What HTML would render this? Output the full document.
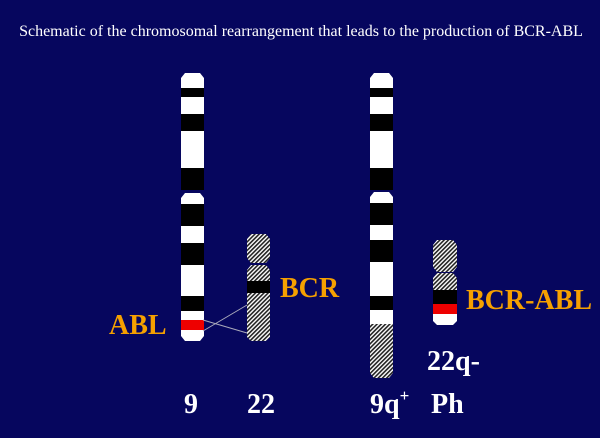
<!DOCTYPE html>
<html><head><meta charset="utf-8"><style>
html,body{margin:0;padding:0;background:#06065e;}
svg{display:block}
</style></head><body>
<svg width="600" height="438" viewBox="0 0 600 438" xmlns="http://www.w3.org/2000/svg">
<defs>
<pattern id="h" width="3" height="3" patternUnits="userSpaceOnUse" patternTransform="rotate(45)">
<rect width="3" height="3" fill="#fff"/><rect width="1.6" height="3" fill="#222"/>
</pattern>
</defs>
<rect width="600" height="438" fill="#06065e"/>
<text x="301" y="36" fill="#fff" font-family="Liberation Serif, serif" font-size="16" text-anchor="middle">Schematic of the chromosomal rearrangement that leads to the production of BCR-ABL</text>

<!-- chr 9 -->
<g>
<path d="M185,73 L200,73 L204,78 L204,190 L181,190 L181,78 Z" fill="#fff"/>
<rect x="181" y="88" width="23" height="9" fill="#000"/>
<rect x="181" y="114" width="23" height="17" fill="#000"/>
<rect x="181" y="168" width="23" height="22" fill="#000"/>
<path d="M185,193 L200,193 L204,198 L204,336 L200,341 L185,341 L181,336 L181,198 Z" fill="#fff"/>
<rect x="181" y="204" width="23" height="22" fill="#000"/>
<rect x="181" y="243" width="23" height="22" fill="#000"/>
<rect x="181" y="296" width="23" height="15" fill="#000"/>
<rect x="181" y="320" width="23" height="10" fill="#e00"/>
</g>
<!-- chr 22 -->
<path d="M251,234 L266,234 L270,239 L270,258 L266,263 L251,263 L247,258 L247,239 Z" fill="url(#h)"/>
<path d="M251,265 L266,265 L270,270 L270,337 L266,341 L251,341 L247,337 L247,270 Z" fill="url(#h)"/>
<rect x="247" y="281" width="23" height="12" fill="#000"/>
<line x1="203" y1="320" x2="247" y2="333" stroke="#aab" stroke-width="1"/>
<line x1="203" y1="331" x2="247" y2="305" stroke="#aab" stroke-width="1"/>

<!-- 9q+ -->
<path d="M374,73 L389,73 L393,78 L393,190 L370,190 L370,78 Z" fill="#fff"/>
<rect x="370" y="88" width="23" height="9" fill="#000"/>
<rect x="370" y="114" width="23" height="17" fill="#000"/>
<rect x="370" y="168" width="23" height="22" fill="#000"/>
<path d="M374,192 L389,192 L393,197 L393,324 L370,324 L370,197 Z" fill="#fff"/>
<rect x="370" y="203" width="23" height="22" fill="#000"/>
<rect x="370" y="240" width="23" height="22" fill="#000"/>
<rect x="370" y="296" width="23" height="14" fill="#000"/>
<path d="M370,324 L393,324 L393,373 L389,378 L374,378 L370,373 Z" fill="url(#h)"/>

<!-- Ph -->
<path d="M437,240 L453,240 L457,245 L457,267 L453,272 L437,272 L433,267 L433,245 Z" fill="url(#h)"/>
<path d="M437,273 L453,273 L457,278 L457,290 L433,290 L433,278 Z" fill="url(#h)"/>
<rect x="433" y="290" width="24" height="14" fill="#000"/>
<rect x="433" y="304" width="24" height="10" fill="#e00"/>
<path d="M433,314 L457,314 L457,321 L453,325 L437,325 L433,321 Z" fill="#fff"/>

<g font-family="Liberation Serif, serif" font-weight="bold" font-size="28">
<text x="109" y="334" fill="#f5a000">ABL</text>
<text x="280" y="297" fill="#f5a000">BCR</text>
<text x="466" y="309" fill="#f5a000">BCR-ABL</text>
<text x="427" y="370" fill="#fff">22q-</text>
<text x="184" y="413" fill="#fff">9</text>
<text x="247" y="413" fill="#fff">22</text>
<text x="370" y="413" fill="#fff">9q<tspan dy="-12" font-size="17">+</tspan></text>
<text x="431" y="413" fill="#fff">Ph</text>
</g>
</svg>
</body></html>
